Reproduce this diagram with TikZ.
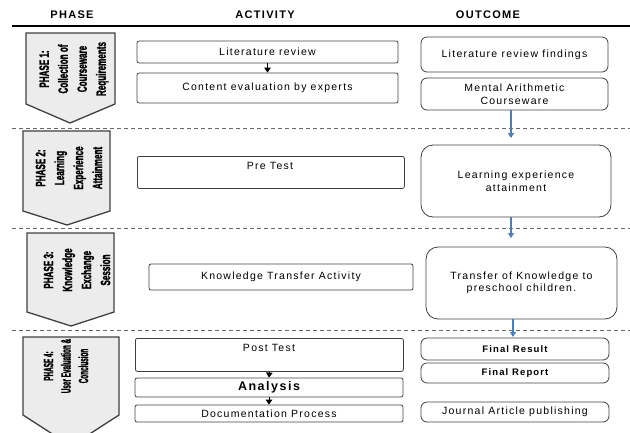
\documentclass[tikz,border=0pt]{standalone}
\usepackage{fontspec}
\setmainfont{Liberation Sans}[LetterSpace=12]
\newfontfamily\narrowfont[FakeStretch=0.6,FakeBold=1.5]{Liberation Sans Bold}
\newfontfamily\narrowerfont[FakeStretch=0.47,FakeBold=1.5]{Liberation Sans Bold}
\usetikzlibrary{arrows.meta}
\definecolor{edge}{HTML}{404040}
\definecolor{pentfill}{HTML}{ECECEC}
\definecolor{flowblue}{HTML}{4A7EBB}
\tikzset{
  boxtext/.style={font=\fontsize{10.5}{12.5}\selectfont},
  act/.style={draw=edge, line width=0.8pt, rounded corners=2pt, inner sep=0pt, boxtext},
  outc/.style={draw=edge, line width=0.8pt, rounded corners=6pt, inner sep=0pt, align=center, boxtext},
  bigoutc/.style={outc, rounded corners=12pt},
  pent/.style={draw=edge, fill=pentfill, line width=1.3pt, line join=miter},
  phasetext/.style={rotate=90, align=center, font=\narrowfont\fontsize{13.5}{19}\selectfont},
  head/.style={font=\bfseries\fontsize{11}{13}\selectfont},
  sep/.style={draw=edge!80, line width=0.9pt, dash pattern=on 4pt off 3pt},
  blackarrow/.style={-{Triangle[width=6.5pt,length=5pt]}, line width=1pt, black},
  bluearrow/.style={-{Triangle[width=6pt,length=5pt]}, line width=1.3pt, flowblue},
}
\begin{document}
\begin{tikzpicture}[x=1pt, y=-1pt]
\useasboundingbox (0,0) rectangle (630,432);
\clip (0,0) rectangle (630,432);

% column headings and rule
\node[head] (hphase) at (72,15) {PHASE};
\node[head] (hact) at (265,15) {ACTIVITY};
\node[head] (hout) at (488,15) {OUTCOME};
\draw[line width=1.6pt] (12,26) -- (630,26);

% separators between phases
\draw[sep] (12,128) -- (630,128);
\draw[sep] (12,228) -- (630,228);
\draw[sep] (12,330) -- (630,330);

% phase chevrons
\draw[pent] (26,33) -- (115,33) -- (115,104) -- (70,123) -- (26,104) -- cycle;
\node[phasetext] (p1) at (74,69) {PHASE 1:\\Collection of\\Courseware\\Requirements};

\draw[pent] (23,131) -- (110,131) -- (110,211) -- (67,225) -- (23,211) -- cycle;
\node[phasetext] (p2) at (69,168) {PHASE 2:\\Learning\\Experience\\Attainment};

\draw[pent] (27,233) -- (114,233) -- (114,312) -- (71,326) -- (27,312) -- cycle;
\node[phasetext] (p3) at (77,270) {PHASE 3:\\Knowledge\\Exchange\\Session};

\draw[pent] (23,337) -- (119,337) -- (119,415) -- (71,446) -- (23,415) -- cycle;
\node[phasetext, font=\narrowerfont\fontsize{13.5}{17.5}\selectfont] (p4) at (66,366) {PHASE 4:\\User Evaluation \&\\Conclusion};

% phase 1
\node[act, minimum width=261pt, minimum height=22pt] (litrev) at (267.5,52) {Literature review};
\node[act, minimum width=261pt, minimum height=30pt] (contev) at (267.5,88) {Content evaluation by experts};
\draw[blackarrow] (litrev.south) -- (contev.north);
\node[outc, minimum width=187pt, minimum height=35pt] (findings) at (514.5,54.5) {Literature review findings};
\node[outc, minimum width=187pt, minimum height=32pt] (courseware) at (514.5,94) {Mental Arithmetic\\Courseware};

% phase 2
\node[act, minimum width=267pt, minimum height=32pt, anchor=north west] (pretest) at (137,156) {};
\node[boxtext] (pretesttext) at (270,166) {Pre Test};
\node[bigoutc, minimum width=190pt, minimum height=72pt] (attain) at (516,181) {Learning experience\\attainment};
\coordinate (c1a) at (511,110);
\coordinate (c1b) at (511,138);
\draw[bluearrow] (c1a) -- (c1b);

% phase 3
\node[act, minimum width=264pt, minimum height=26pt] (kta) at (281,277) {Knowledge Transfer Activity};
\node[bigoutc, minimum width=191pt, minimum height=72pt] (transfer) at (521.5,283) {Transfer of Knowledge to\\preschool children.};
\coordinate (c2a) at (511,217);
\coordinate (c2b) at (511,238);
\draw[bluearrow] (c2a) -- (c2b);

% phase 4
\node[act, minimum width=268pt, minimum height=33pt, anchor=north west] (posttest) at (135,338) {};
\node[boxtext] (posttesttext) at (269,348) {Post Test};
\node[act, minimum width=268pt, minimum height=19pt, font=\bfseries\fontsize{12.5}{14}\selectfont] (analysis) at (269,387.5) {Analysis};
\node[act, minimum width=268pt, minimum height=17pt] (docproc) at (269,413.5) {Documentation Process};
\draw[blackarrow] (posttest.south) -- (analysis.north);
\draw[blackarrow] (analysis.south) -- (docproc.north);
\node[outc, minimum width=188pt, minimum height=22pt, font=\bfseries\fontsize{9.5}{11}\selectfont] (result) at (515,349) {Final Result};
\node[outc, minimum width=188pt, minimum height=20pt, font=\bfseries\fontsize{9.5}{11}\selectfont] (report) at (515,373) {Final Report};
\node[outc, minimum width=188pt, minimum height=20pt] (journal) at (515,412) {Journal Article publishing};
\coordinate (c3a) at (513,319);
\coordinate (c3b) at (513,337);
\draw[bluearrow] (c3a) -- (c3b);
\end{tikzpicture}
\end{document}
